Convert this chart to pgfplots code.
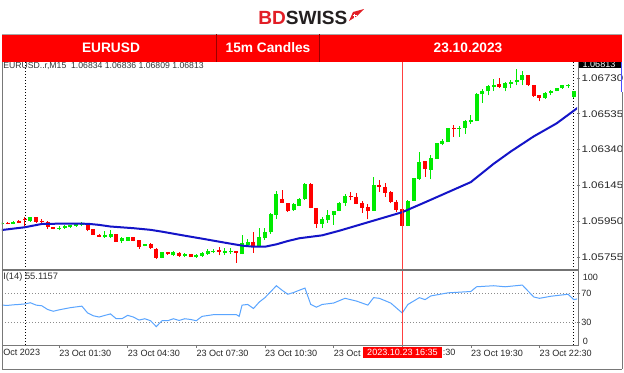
\documentclass[border=0pt]{standalone}
\usepackage{pgfplots}
\pgfplotsset{compat=1.18}
\usepackage{pgfplotstable}
\usepackage{graphicx}
\usepackage{fontspec}
\setmainfont{Liberation Sans}
\definecolor{cgreen}{RGB}{0,235,0}
\definecolor{cred}{RGB}{255,0,0}
\definecolor{mablue}{RGB}{20,20,200}
\definecolor{rsiblue}{RGB}{90,165,255}
\definecolor{bdred}{RGB}{226,30,38}
\definecolor{bddark}{RGB}{35,31,32}
\definecolor{framegray}{RGB}{120,120,120}
\newcommand{\pl}[1]{\scalebox{1.2}[1]{#1}}
\begin{document}
\pgfplotstableread{
x o h l c
-4 1.05933 1.05944 1.05931 1.05942
-2 1.05935 1.05949 1.05933 1.05947
1 1.05949 1.05975 1.05947 1.05973
6 1.05908 1.05922 1.05900 1.05915
7 1.05913 1.05927 1.05908 1.05922
8 1.05917 1.05931 1.05915 1.05927
9 1.05924 1.05942 1.05920 1.05935
10 1.05927 1.05946 1.05922 1.05940
14 1.05862 1.05898 1.05861 1.05877
15 1.05864 1.05900 1.05858 1.05880
17 1.05840 1.05864 1.05833 1.05858
18 1.05844 1.05864 1.05842 1.05862
21 1.05815 1.05828 1.05813 1.05826
24 1.05750 1.05784 1.05748 1.05780
26 1.05764 1.05786 1.05760 1.05780
28 1.05760 1.05779 1.05755 1.05771
30 1.05755 1.05771 1.05750 1.05768
31 1.05760 1.05782 1.05757 1.05777
32 1.05771 1.05797 1.05766 1.05786
33 1.05780 1.05799 1.05775 1.05788
35 1.05777 1.05802 1.05766 1.05786
36 1.05780 1.05806 1.05773 1.05788
38 1.05771 1.05875 1.05770 1.05829
39 1.05820 1.05851 1.05811 1.05839
41 1.05811 1.05911 1.05808 1.05864
42 1.05857 1.05911 1.05849 1.05893
43 1.05889 1.05996 1.05882 1.05987
44 1.05986 1.06115 1.05962 1.06096
47 1.06009 1.06047 1.06006 1.06044
48 1.06035 1.06075 1.06033 1.06071
49 1.06071 1.06156 1.06065 1.06151
52 1.05937 1.05971 1.05911 1.05962
53 1.05955 1.06011 1.05942 1.05984
54 1.05982 1.06006 1.05931 1.06004
55 1.06006 1.06053 1.06004 1.06051
56 1.06051 1.06096 1.06033 1.06087
61 1.06007 1.06193 1.06006 1.06147
67 1.05924 1.06065 1.05922 1.06062
68 1.06062 1.06187 1.06060 1.06183
69 1.06182 1.06327 1.06176 1.06272
71 1.06231 1.06309 1.06178 1.06294
72 1.06291 1.06376 1.06289 1.06374
73 1.06372 1.06396 1.06363 1.06389
74 1.06381 1.06459 1.06380 1.06458
76 1.06452 1.06467 1.06409 1.06459
77 1.06458 1.06499 1.06427 1.06494
78 1.06490 1.06527 1.06481 1.06503
79 1.06496 1.06648 1.06494 1.06645
80 1.06641 1.06668 1.06596 1.06661
81 1.06657 1.06694 1.06636 1.06685
82 1.06681 1.06726 1.06659 1.06694
84 1.06677 1.06708 1.06657 1.06703
85 1.06699 1.06717 1.06677 1.06708
86 1.06708 1.06777 1.06690 1.06721
87 1.06717 1.06768 1.06690 1.06745
91 1.06621 1.06654 1.06617 1.06650
92 1.06648 1.06663 1.06636 1.06659
93 1.06659 1.06677 1.06657 1.06676
94 1.06676 1.06694 1.06672 1.06690
95 1.06686 1.06696 1.06676 1.06694
96 1.06627 1.06661 1.06623 1.06657
97 1.06648 1.06676 1.06645 1.06672
}\up
\pgfplotstableread{
x o h l c
-3 1.05942 1.05944 1.05933 1.05935
-1 1.05953 1.05957 1.05938 1.05942
0 1.05964 1.05973 1.05922 1.05960
2 1.05971 1.05975 1.05940 1.05946
3 1.05953 1.05960 1.05942 1.05946
4 1.05944 1.05949 1.05909 1.05917
5 1.05918 1.05920 1.05906 1.05908
11 1.05937 1.05942 1.05895 1.05902
12 1.05908 1.05909 1.05875 1.05877
13 1.05877 1.05880 1.05862 1.05864
16 1.05880 1.05882 1.05837 1.05839
19 1.05862 1.05864 1.05840 1.05842
20 1.05846 1.05849 1.05800 1.05811
22 1.05826 1.05829 1.05799 1.05802
23 1.05799 1.05802 1.05744 1.05748
25 1.05780 1.05782 1.05768 1.05770
27 1.05779 1.05780 1.05757 1.05760
29 1.05771 1.05773 1.05755 1.05757
34 1.05791 1.05809 1.05764 1.05784
37 1.05788 1.05789 1.05724 1.05775
40 1.05839 1.05889 1.05777 1.05813
45 1.06071 1.06118 1.06049 1.06051
46 1.06047 1.06049 1.06002 1.06006
50 1.06153 1.06156 1.06020 1.06024
51 1.06020 1.06024 1.05915 1.05937
57 1.06087 1.06109 1.06064 1.06080
58 1.06084 1.06105 1.06042 1.06046
59 1.06051 1.06062 1.05996 1.06020
60 1.06025 1.06044 1.05960 1.06007
62 1.06147 1.06174 1.06111 1.06138
63 1.06138 1.06160 1.06084 1.06102
64 1.06107 1.06114 1.06047 1.06053
65 1.06056 1.06065 1.06000 1.06011
66 1.06015 1.06018 1.05920 1.05922
70 1.06276 1.06278 1.06191 1.06232
75 1.06458 1.06476 1.06409 1.06452
83 1.06696 1.06730 1.06677 1.06681
88 1.06745 1.06748 1.06686 1.06690
89 1.06690 1.06694 1.06627 1.06630
90 1.06636 1.06639 1.06603 1.06623
}\dn
\begin{tikzpicture}
\useasboundingbox (0,0) rectangle (468pt,-279pt);
\begin{scope}[x=0.75pt,y=-0.75pt]
  \fill[white] (0,0) rectangle (624,372);
  \draw[black, line width=0.75pt, dash pattern=on 0.75pt off 1.5pt] (25,62) -- (25,345);
  \draw[black, line width=0.75pt, dash pattern=on 0.75pt off 1.5pt] (573.5,62) -- (573.5,345);
\end{scope}
% ---------------- price panel ----------------
\begin{axis}[
  at={(1.5pt,-201.75pt)}, anchor=south west,
  scale only axis, width=431.25pt, height=155.25pt,
  xmin=-3.97, xmax=96.56, ymin=1.0568962, ymax=1.0681715,
  axis line style={draw=none},
  xtick=\empty,
  ytick={1.05755,1.0595,1.06145,1.0634,1.06535,1.0673},
  yticklabels={\pl{1.05755},\pl{1.05950},\pl{1.06145},\pl{1.06340},\pl{1.06535},\pl{1.06730}},
  ytick pos=right, yticklabel pos=right,
  tick align=outside, major tick length=2.25pt,
  every tick/.style={framegray, line width=0.5pt},
  yticklabel style={font=\fontsize{7.2}{8}\selectfont, anchor=west, inner sep=0pt, xshift=1pt, text=black!85},
  scaled y ticks=false,
  clip=true,
]
\addplot[draw=cgreen, line width=0.75pt, -, quiver={u=0, v=\thisrow{h}-\thisrow{l}, every arrow/.append style={line width=0.75pt}}] table[x=x, y=l] {\up};
\addplot[draw=cred, line width=0.75pt, -, quiver={u=0, v=\thisrow{h}-\thisrow{l}, every arrow/.append style={line width=0.75pt}}] table[x=x, y=l] {\dn};
\addplot[draw=cgreen, line width=3pt, -, quiver={u=0, v=\thisrow{c}-\thisrow{o}, every arrow/.append style={line width=3pt}}] table[x=x, y=o] {\up};
\addplot[draw=cred, line width=3pt, -, quiver={u=0, v=\thisrow{c}-\thisrow{o}, every arrow/.append style={line width=3pt}}] table[x=x, y=o] {\dn};
\addplot[mablue, line width=1.5pt, no marks] coordinates {
(-4,1.05902) (0,1.05917) (3,1.05935) (7,1.05937) (11,1.05936) (13,1.05930)
(15,1.05921) (19,1.05912) (22,1.05903) (24,1.05893) (28,1.05871) (31,1.05855)
(35,1.05833) (38,1.05817) (40,1.05811) (42,1.05811) (44,1.05824) (46,1.05842)
(48,1.05857) (52,1.05873) (55,1.05898) (60,1.05944) (66,1.05999) (70,1.06053)
(78,1.06163) (82,1.06263) (85,1.06330) (89,1.06412) (93,1.06483) (97,1.06575)};
\end{axis}
% ---------------- RSI panel ----------------
\begin{axis}[
  at={(1.5pt,-258.75pt)}, anchor=south west,
  scale only axis, width=431.25pt, height=55.5pt,
  xmin=-3.97, xmax=96.56, ymin=0, ymax=100,
  axis line style={draw=none},
  xtick={6,18,30,42,54,66,78,90},
  xticklabels={23 Oct 01:30,23 Oct 04:30,23 Oct 07:30,23 Oct 10:30,23 Oct,{},23 Oct 19:30,23 Oct 22:30},
  xtick pos=left,
  ytick={30,70}, yticklabels={30,70},
  ytick pos=right, yticklabel pos=right,
  ymajorgrids, grid style={black!45, line width=0.5pt, dash pattern=on 0.75pt off 1.5pt},
  tick align=outside, major tick length=2.25pt,
  every tick/.style={framegray, line width=0.5pt},
  xticklabel style={font=\fontsize{6.8}{8}\selectfont, anchor=north west, inner sep=0pt, yshift=-1.5pt, text=black!85},
  yticklabel style={font=\fontsize{6.8}{8}\selectfont, anchor=west, inner sep=0pt, xshift=0.75pt, text=black!85},
  clip=true,
]
\addplot[rsiblue, line width=0.75pt, no marks] coordinates {
(-4,53.9) (-3,53.5) (-2,54.3) (-1,54.8) (0,55.5) (1,57.1) (2,53.9) (3,53.0) (4,48.0)
(5,45.6) (6,47.5) (7,49.0) (8,50.5) (9,51.5) (10,52.5) (11,43.3) (12,39.5) (13,37.8)
(14,40.0) (15,42.0) (16,35.5) (17,35.5) (18,40.1) (19,37.8) (20,33.7) (21,35.5)
(22,32.8) (23,24.9) (24,32.8) (25,32.8) (26,35.5) (27,33.2) (28,35.5) (29,34.5)
(30,32.8) (31,38.7) (33,41.0) (37,41.0) (37.5,38.7) (38,53.9) (39,54.8) (40,49.3)
(41,58.0) (42,64.0) (43,72.0) (44,80.1) (45,74.0) (46,68.6) (47,70.9) (48,74.0)
(49,76.9) (50,55.0) (51,51.1) (52,54.8) (54,56.7) (56,63.1) (58,59.4) (60,53.9)
(61,64.0) (62,63.1) (64,56.7) (66,43.3) (67,54.8) (69,64.0) (70,61.3) (71,66.3)
(74,70.5) (78,72.3) (79,78.7) (82,80.1) (84,78.7) (87,81.0) (89,64.9) (90,63.1)
(92,65.9) (95,68.6) (96,61.3) (97,63.0)};
\end{axis}
% ---------------- overlay ----------------
\begin{scope}[x=0.75pt,y=-0.75pt]
  % crosshair
  \draw[red!75, line width=0.75pt] (402.5,62) -- (402.5,345);
  % frame
  \draw[framegray, line width=0.75pt] (2,62) -- (2,369);
  \draw[framegray, line width=0.75pt] (578,62) -- (578,345.5);
  \draw[black!55, line width=1.5pt] (2,270) -- (578,270);
  \draw[framegray, line width=0.75pt] (2,345.5) -- (578,345.5);
  \draw[framegray, line width=0.75pt] (2,369) -- (622,369);
  \draw[framegray, line width=0.75pt] (622,92) -- (622,369);
  \draw[blue!70, line width=0.75pt] (621.5,62) -- (621.5,92);
  % labels
  \node[anchor=west, inner sep=0pt, font=\fontsize{6.5}{8}\selectfont, text=black!80] at (3,66.5) {EURUSD..r,M15\ \ 1.06834 1.06836 1.06809 1.06813};
  \node[anchor=west, inner sep=0pt, font=\fontsize{7}{8}\selectfont, text=black!80] at (3,277.5) {I(14) 55.1157};
  \node[anchor=west, inner sep=0pt, font=\fontsize{6.8}{8}\selectfont, text=black!85] at (582.5,277.5) {100};
  \node[anchor=west, inner sep=0pt, font=\fontsize{6.8}{8}\selectfont, text=black!85] at (582.5,341.5) {0};
  \node[anchor=west, inner sep=0pt, font=\fontsize{6.8}{8}\selectfont, text=black!85] at (3,352) {Oct 2023};
  \node[anchor=west, inner sep=0pt, font=\fontsize{6.8}{8}\selectfont, text=black!85] at (442.5,352.3) {:30};
  % time box
  \fill[red] (363,346.5) rectangle (442,357.5);
  \node[inner sep=0pt, font=\fontsize{6.8}{8}\selectfont, text=white] at (402.5,352) {2023.10.23 16:35};
  % current price box (clipped)
  \begin{scope}
    \clip (578.5,62) rectangle (621,67.5);
    \fill[black] (578.5,62) rectangle (621,67.5);
    \node[inner sep=0pt, font=\fontsize{6.8}{8}\selectfont, text=white] at (599,64.5) {1.06813};
  \end{scope}
  % header band
  \fill[cred] (2,34) rectangle (622,62);
  \draw[black!35, line width=0.5pt] (2,34) -- (622,34);
  \draw[red!60!black, line width=0.5pt] (216,34) -- (216,62);
  \draw[red!60!black, line width=0.5pt] (319,34) -- (319,62);
  \node[font=\fontsize{10.3}{12}\selectfont\bfseries, text=white] at (111,48) {EURUSD};
  \node[font=\fontsize{10.3}{12}\selectfont\bfseries, text=white] at (268,48) {15m Candles};
  \node[font=\fontsize{10.3}{12}\selectfont\bfseries, text=white] at (468,48) {23.10.2023};
  % logo
  \node[anchor=west, inner sep=0pt, font=\fontsize{14.3}{16}\selectfont\bfseries] at (258,17.5) {\textcolor{bdred}{BD}\textcolor{bddark}{SWISS}};
  \fill[bdred] (349,21) -- (353,12) -- (364,9) -- (357,16) -- cycle;
  \draw[white, line width=0.6pt] (352.5,15.5) -- (356.5,15.5) (354.5,13.5) -- (354.5,17.5);
\end{scope}
\end{tikzpicture}
\end{document}
